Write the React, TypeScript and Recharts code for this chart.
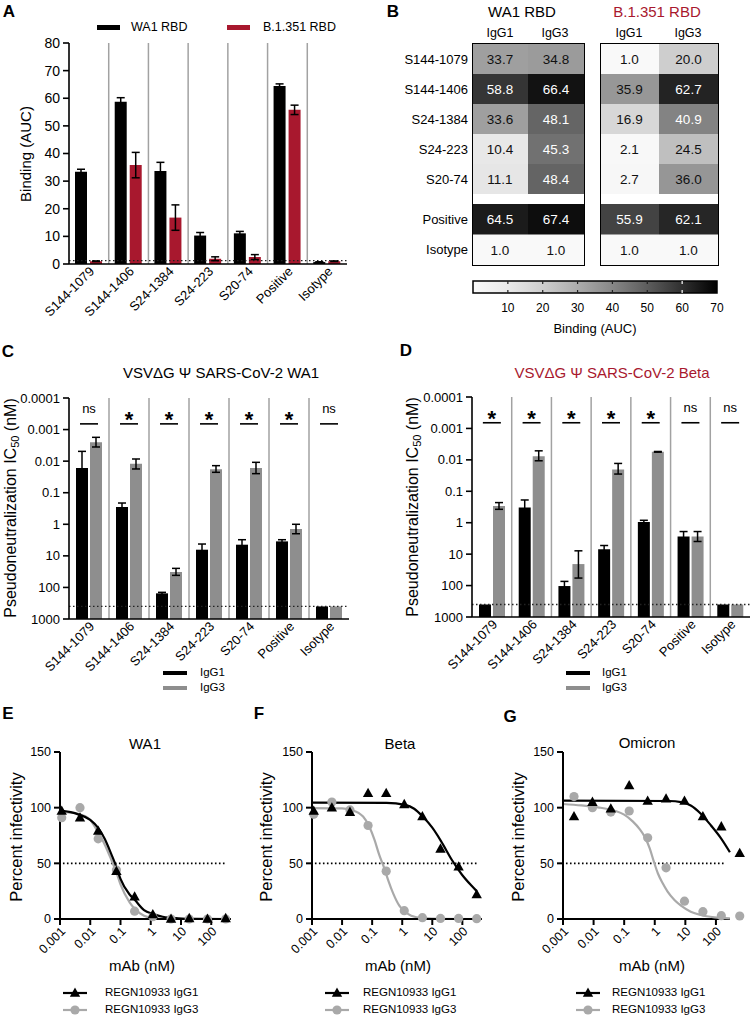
import React from 'react';
import {
  BarChart, Bar, ComposedChart, Line, Scatter, XAxis, YAxis, ErrorBar,
  ReferenceLine, CartesianGrid,
} from 'recharts';

const FONT = '"Liberation Sans", Arial, Helvetica, sans-serif';
const CRIMSON = '#a8182e';
const BAR_GREY = '#8e8e8e';
const CURVE_GREY = '#a9a9a9';
const SEP_GREY = '#a2a2a2';
const AX = { stroke: '#000', strokeWidth: 1.6 };

// ---- A: RBD binding ----
const antibodies = ['S144-1079', 'S144-1406', 'S24-1384', 'S24-223', 'S20-74', 'Positive', 'Isotype'];
const bindWa1 = [33.4, 58.7, 33.7, 10.3, 11.1, 64.4, 0.7];
const bindWa1Err = [0.9, 1.5, 3.1, 1.1, 0.7, 0.8, 0.1];
const bindBeta = [1.0, 35.8, 16.8, 1.9, 2.5, 55.8, 1.0];
const bindBetaErr = [0.1, 4.6, 4.6, 0.7, 0.9, 1.7, 0.1];
const bindLimit = 1.2;
const bindTicks = [0, 10, 20, 30, 40, 50, 60, 70, 80];

// ---- B: heatmap ----
const heatRows = ['S144-1079', 'S144-1406', 'S24-1384', 'S24-223', 'S20-74'];
const heatCtrlRows = ['Positive', 'Isotype'];
const heatWa1G1 = [33.7, 58.8, 33.6, 10.4, 11.1];
const heatWa1G3 = [34.8, 66.4, 48.1, 45.3, 48.4];
const heatWa1CtrlG1 = [64.5, 1.0];
const heatWa1CtrlG3 = [67.4, 1.0];
const heatBetaG1 = [1.0, 35.9, 16.9, 2.1, 2.7];
const heatBetaG3 = [20.0, 62.7, 40.9, 24.5, 36.0];
const heatBetaCtrlG1 = [55.9, 1.0];
const heatBetaCtrlG3 = [62.1, 1.0];
const scaleTicks = [10, 20, 30, 40, 50, 60, 70];
const scaleMax = 70;

// ---- C / D: pseudoneutralization IC50 (nM) ----
const neutTicks = [0.0001, 0.001, 0.01, 0.1, 1, 10, 100, 1000];
const neutLimit = 400;
const wa1IgG1 = [0.0165, 0.284, 154, 6.38, 4.43, 3.48, 400];
const wa1IgG1Lo = [0.0049, 0.212, 143, 4.22, 3.08, 3.08, null];
const wa1IgG1Hi = [0.0303, 0.389, 170, 9.19, 6.38, 3.93, null];
const wa1IgG3 = [0.00253, 0.012, 32.5, 0.0182, 0.0165, 1.41, 400];
const wa1IgG3Lo = [0.00176, 0.00855, 24.9, 0.0139, 0.0109, 1.0, null];
const wa1IgG3Hi = [0.00356, 0.0177, 41.5, 0.0226, 0.0249, 1.99, null];
const wa1Sig = ['ns', '*', '*', '*', '*', '*', 'ns'];
const betaIgG1 = [400, 0.331, 103.5, 6.94, 0.944, 2.75, 400];
const betaIgG1Lo = [null, 0.189, 73.6, 5.31, 0.837, 1.91, null];
const betaIgG1Hi = [null, 0.64, 152.7, 9.29, 1.065, 3.96, null];
const betaIgG3 = [0.293, 0.00763, 20.7, 0.0202, 0.00555, 2.75, 400];
const betaIgG3Lo = [0.229, 0.00516, 7.84, 0.013, 0.00541, 1.91, null];
const betaIgG3Hi = [0.375, 0.0107, 57.7, 0.0283, 0.00569, 3.96, null];
const betaSig = ['*', '*', '*', '*', '*', 'ns', 'ns'];
const sigLevel = 0.00066;

// ---- E / F / G: REGN10933 neutralization ----
const doseTicks = [0.001, 0.01, 0.1, 1, 10, 100];
const pctTicks = [0, 50, 100, 150];
const concWa1Beta = [0.00114, 0.00458, 0.0183, 0.0732, 0.293, 1.17, 4.69, 18.75, 75, 300];
const concOmicron = [0.00229, 0.00916, 0.0366, 0.146, 0.586, 2.34, 9.375, 37.5, 150, 600];

const wa1PtsG1 = [97, 91, 79, 43, 20, 4, 0, 0.6, 0, 0.6];
const wa1PtsG3 = [91, 100, 72, 44, 7, 2, 0, 0, 0, 0];
const wa1FitX = [0.001, 0.004, 0.01, 0.018, 0.03, 0.05, 0.075, 0.1, 0.2, 0.3, 0.6, 1.2, 2.5, 8, 30, 300];
const wa1FitG1 = [97.5, 94, 89, 82, 72, 58, 46, 36, 22, 17, 8, 4.5, 2, 0.6, 0.1, 0];
const wa1FitG3 = [96.5, 94.5, 89, 78, 67, 53, 41, 31, 15, 9, 3, 1, 0.3, 0, 0, 0];

const betaPtsG1 = [97, 100, 96, 113, 113, 103, 92, 63, 47, 22];
const betaPtsG3 = [94, 105, 98, 84, 43, 7.5, 1.2, 0.5, 0.5, 0.3];
const betaFitX1 = [0.001, 0.3, 1.25, 2.5, 4.8, 10, 19.5, 45, 96, 200, 300];
const betaFitG1 = [104.5, 104.3, 102.5, 99, 92, 82, 70, 53, 40, 30, 25];
const betaFitX3 = [0.001, 0.01, 0.02, 0.05, 0.08, 0.12, 0.17, 0.25, 0.35, 0.5, 0.8, 1.2, 2, 5, 20, 300];
const betaFitG3 = [99.5, 99.3, 98, 92, 83, 71, 58, 46, 34, 23, 12, 7, 3, 0.8, 0.1, 0];

const omiPtsG1 = [92, 105, 99, 120, 106, 108, 106, 92, 83, 59];
const omiPtsG3 = [110, 100, 96, 97, 73, 46, 16, 6.6, 3, 2.7];
const omiFitX1 = [0.001, 3, 7.2, 15, 32, 69, 145, 286];
const omiFitG1 = [106.3, 106, 105, 102, 94.6, 84, 72.7, 60];
const omiFitX3 = [0.001, 0.004, 0.014, 0.048, 0.1, 0.19, 0.32, 0.46, 0.68, 0.93, 1.26, 1.82, 2.63, 4.4, 7.2, 15, 32, 89, 286];
const omiFitG3 = [103.3, 102, 100.3, 97.3, 93.7, 87.7, 80.8, 74.2, 63.7, 51.7, 41.1, 32.1, 24.6, 17.1, 12, 6.6, 3.6, 1.5, 0.6];

// helpers
const heatGrey = (v: number) => {
  const g = Math.round(250 * (1 - Math.pow(Math.min(v, scaleMax) / scaleMax, 1.38)));
  return `rgb(${g},${g},${g})`;
};

// separators between category bands, from the grid's plot offset
const bandEdges = (count: number) => ({ offset }: any) => {
  const step = offset.width / count;
  return Array.from({ length: count - 1 }, (_, i) => offset.left + step * (i + 1));
};

function AngledTick({ x, y, payload, size = 13, fmt }: any) {
  return (
    <g transform={`translate(${x + 3},${y + 2}) rotate(-45)`}>
      <text x={0} y={0} dy="0.35em" textAnchor="end" fontSize={size} fontFamily={FONT} fill="#000">
        {fmt ? fmt(payload.value) : payload.value}
      </text>
    </g>
  );
}

function T({ x, y, size = 13, bold = false, color = '#000', rotate = 0, align = 'center', children }: any) {
  const tx = align === 'left' ? '0' : align === 'right' ? '-100%' : '-50%';
  return (
    <div
      style={{
        position: 'absolute', left: x, top: y, whiteSpace: 'nowrap', lineHeight: 1,
        transform: `translate(${tx},-50%)${rotate ? ` rotate(${rotate}deg)` : ''}`,
        fontSize: size, fontWeight: bold ? 700 : 400, color,
      }}
    >
      {children}
    </div>
  );
}

function Box({ x, y, w, h, children }: any) {
  return <div style={{ position: 'absolute', left: x, top: y, width: w, height: h }}>{children}</div>;
}

// ---- A ----
function BindingChart() {
  const rows = antibodies.map((name, i) => ({
    name, wa1: bindWa1[i], wa1Err: bindWa1Err[i], beta: bindBeta[i], betaErr: bindBetaErr[i],
  }));
  return (
    <BarChart width={372} height={330} data={rows} margin={{ top: 43, right: 25, bottom: 0, left: 0 }} barSize={12} barGap={3}>
      <CartesianGrid horizontal={false} stroke={SEP_GREY} strokeWidth={1.5} verticalCoordinatesGenerator={bandEdges(antibodies.length)} />
      <XAxis dataKey="name" interval={0} height={66} tickLine={false} tickSize={0} tickMargin={3} axisLine={AX}
        tick={(p: any) => <AngledTick {...p} size={13} />} />
      <XAxis xAxisId="frame" orientation="top" dataKey="name" height={0} tick={false} tickLine={false} axisLine={AX} />
      <YAxis width={69} domain={[0, 80]} ticks={bindTicks} allowDataOverflow interval={0} tickSize={6} tickMargin={3}
        axisLine={AX} tickLine={AX} tick={{ fontSize: 14, fill: '#000', fontFamily: FONT }} />
      <YAxis yAxisId="frame" orientation="right" width={0} tick={false} tickLine={false} axisLine={AX} />
      <ReferenceLine y={bindLimit} stroke="#222" strokeDasharray="1.5 2.5" strokeWidth={1.3} />
      <Bar dataKey="wa1" fill="#000" isAnimationActive={false}>
        <ErrorBar dataKey="wa1Err" width={4} stroke="#000" strokeWidth={1.5} />
      </Bar>
      <Bar dataKey="beta" fill={CRIMSON} isAnimationActive={false}>
        <ErrorBar dataKey="betaErr" width={4} stroke="#000" strokeWidth={1.5} />
      </Bar>
    </BarChart>
  );
}

// ---- B ----
function HeatCell(props: any) {
  const { x, y, width, height, payload, valueKey } = props;
  const v = payload[valueKey];
  return (
    <g>
      <rect x={x} y={y} width={width} height={height} fill={heatGrey(v)} />
      <text x={x + width / 2} y={y + height / 2} dy="0.36em" textAnchor="middle" fontSize={13.5}
        fontFamily={FONT} fill={v > 38 ? '#fff' : '#111'}>
        {v.toFixed(1)}
      </text>
    </g>
  );
}

function HeatGroup({ rows, g1, g3, width, height, showLabels }: any) {
  const data = rows.map((row: string, i: number) => ({ row, span1: 1, span3: 1, v1: g1[i], v3: g3[i] }));
  return (
    <BarChart layout="vertical" width={width} height={height} data={data} margin={{ top: 0, right: 0, bottom: 0, left: 0 }}
      barCategoryGap={0} barGap={0}>
      <XAxis type="number" domain={[0, 2]} hide />
      <YAxis type="category" dataKey="row" width={showLabels ? 100 : 0} hide={!showLabels} axisLine={false} tickLine={false}
        tickSize={0} tickMargin={4} interval={0} tick={{ fontSize: 13, fill: '#000', fontFamily: FONT }} />
      <Bar dataKey="span1" stackId="h" isAnimationActive={false} shape={(p: any) => <HeatCell {...p} valueKey="v1" />} />
      <Bar dataKey="span3" stackId="h" isAnimationActive={false} shape={(p: any) => <HeatCell {...p} valueKey="v3" />} />
    </BarChart>
  );
}

function ColorScale() {
  const data = [{ name: 'AUC', range: [0, scaleMax] }];
  return (
    <BarChart layout="vertical" width={270} height={47} data={data} margin={{ top: 5, right: 18, bottom: 0, left: 8 }}
      barCategoryGap={0}>
      <XAxis type="number" domain={[0, scaleMax]} ticks={scaleTicks} height={30} axisLine={false} tickLine={false}
        tickSize={0} tickMargin={10} interval={0} tick={{ fontSize: 12, fill: '#000', fontFamily: FONT }} />
      <YAxis type="category" dataKey="name" hide />
      <Bar dataKey="range" fill="url(#aucGrad)" stroke="#000" strokeWidth={1.5} isAnimationActive={false} />
      {scaleTicks.slice(0, -1).map((t) => (
        <ReferenceLine key={t} x={t} stroke={t >= 60 ? '#fff' : '#222'} strokeWidth={1.2} strokeDasharray="3 6" />
      ))}
    </BarChart>
  );
}

// ---- C / D ----
function SigMark({ cx, cy, payload }: any) {
  const star = payload.sig === '*';
  return (
    <g>
      <line x1={cx - 9} x2={cx + 9} y1={cy} y2={cy} stroke="#000" strokeWidth={1.6} />
      <text x={cx} y={star ? cy + 3 : cy - 11} textAnchor="middle" fontSize={star ? 22 : 13}
        fontWeight={star ? 700 : 400} fontFamily={FONT} fill="#000">
        {payload.sig}
      </text>
    </g>
  );
}

const errOf = (v: number, lo: number | null, hi: number | null) => (lo == null || hi == null ? null : [v - lo, hi - v]);

function NeutChart({ width, height, margin, xAxisHeight, g1, g1Lo, g1Hi, g3, g3Lo, g3Hi, sig }: any) {
  const axisMax = neutTicks[neutTicks.length - 1];
  const rows = antibodies.map((name, i) => ({
    name,
    igg1: [axisMax, g1[i]],
    igg1Err: errOf(g1[i], g1Lo[i], g1Hi[i]),
    igg3: [axisMax, g3[i]],
    igg3Err: errOf(g3[i], g3Lo[i], g3Hi[i]),
    sig: sig[i],
    sigLevel,
  }));
  return (
    <ComposedChart width={width} height={height} data={rows} margin={margin} barSize={12} barGap={2}>
      <CartesianGrid horizontal={false} stroke={SEP_GREY} strokeWidth={1.5} verticalCoordinatesGenerator={bandEdges(antibodies.length)} />
      <XAxis dataKey="name" interval={0} height={xAxisHeight} tickLine={false} tickSize={0} tickMargin={3} axisLine={AX}
        tick={(p: any) => <AngledTick {...p} size={13} />} />
      <XAxis xAxisId="frame" orientation="top" dataKey="name" height={0} tick={false} tickLine={false} axisLine={AX} />
      <YAxis width={69} scale="log" domain={[neutTicks[0], axisMax]} reversed allowDataOverflow ticks={neutTicks} interval={0}
        tickSize={6} tickMargin={3} axisLine={AX} tickLine={AX} tickFormatter={(v: number) => String(v)}
        tick={{ fontSize: 13, fill: '#000', fontFamily: FONT }} />
      <YAxis yAxisId="frame" orientation="right" width={0} tick={false} tickLine={false} axisLine={AX} />
      <ReferenceLine y={neutLimit} stroke="#222" strokeDasharray="1.5 2.5" strokeWidth={1.3} />
      <Bar dataKey="igg1" fill="#000" isAnimationActive={false}>
        <ErrorBar dataKey="igg1Err" width={4} stroke="#000" strokeWidth={1.5} />
      </Bar>
      <Bar dataKey="igg3" fill={BAR_GREY} isAnimationActive={false}>
        <ErrorBar dataKey="igg3Err" width={4} stroke="#000" strokeWidth={1.5} />
      </Bar>
      <Scatter dataKey="sigLevel" isAnimationActive={false} shape={(p: any) => <SigMark {...p} />} />
    </ComposedChart>
  );
}

// ---- E / F / G ----
const TriMark = ({ cx, cy }: any) => (
  <path d={`M${cx},${cy - 5.5} L${cx + 5.2},${cy + 3.8} L${cx - 5.2},${cy + 3.8} Z`} fill="#000" />
);
const DotMark = ({ cx, cy }: any) => <circle cx={cx} cy={cy} r={4.6} fill={CURVE_GREY} />;

const pts = (xs: number[], ys: number[]) => xs.map((x, i) => ({ x, y: ys[i] }));

function DoseChart({ width, yAxisWidth, marginRight, xMax, axisEnd, dotEnd, conc, ptsG1, ptsG3, fitX1, fitG1, fitX3, fitG3 }: any) {
  const axisLine = axisEnd ? false : { stroke: '#000', strokeWidth: 2 };
  return (
    <ComposedChart width={width} height={245} margin={{ top: 12, right: marginRight, bottom: 0, left: 0 }}>
      <XAxis type="number" dataKey="x" scale="log" domain={[doseTicks[0], xMax]} ticks={doseTicks} interval={0}
        height={66} tickSize={6} tickMargin={2} axisLine={axisLine} tickLine={{ stroke: '#000', strokeWidth: 2 }}
        tick={(p: any) => <AngledTick {...p} size={12.5} fmt={(v: number) => String(v)} />} />
      <YAxis type="number" dataKey="y" width={yAxisWidth} domain={[0, 150]} ticks={pctTicks} interval={0}
        tickSize={6} tickMargin={3} axisLine={{ stroke: '#000', strokeWidth: 2 }} tickLine={{ stroke: '#000', strokeWidth: 2 }}
        tick={{ fontSize: 12.5, fill: '#000', fontFamily: FONT }} />
      {axisEnd ? (
        <ReferenceLine segment={[{ x: doseTicks[0], y: 0 }, { x: axisEnd, y: 0 }]} stroke="#000" strokeWidth={2} />
      ) : null}
      <ReferenceLine segment={[{ x: 0.00125, y: 50 }, { x: dotEnd, y: 50 }]} stroke="#000" strokeWidth={1.6} strokeDasharray="1.6 2.4" />
      <Line data={pts(fitX3, fitG3)} dataKey="y" type="monotone" dot={false} stroke={CURVE_GREY} strokeWidth={2.2} isAnimationActive={false} />
      <Scatter data={pts(conc, ptsG3)} dataKey="y" isAnimationActive={false} shape={(p: any) => <DotMark {...p} />} />
      <Line data={pts(fitX1, fitG1)} dataKey="y" type="monotone" dot={false} stroke="#000" strokeWidth={2.2} isAnimationActive={false} />
      <Scatter data={pts(conc, ptsG1)} dataKey="y" isAnimationActive={false} shape={(p: any) => <TriMark {...p} />} />
    </ComposedChart>
  );
}

function DoseLegend({ cx, textX }: any) {
  return (
    <>
      <svg style={{ position: 'absolute', left: cx - 13, top: 984, overflow: 'visible' }} width={26} height={34}>
        <line x1={1} x2={25} y1={9} y2={9} stroke="#000" strokeWidth={2.2} />
        <TriMark cx={13} cy={9} />
        <line x1={1} x2={25} y1={26} y2={26} stroke={CURVE_GREY} strokeWidth={2.2} />
        <DotMark cx={13} cy={26} />
      </svg>
      <T x={textX} y={993} size={11.5} align="left">REGN10933 IgG1</T>
      <T x={textX} y={1010} size={11.5} align="left">REGN10933 IgG3</T>
    </>
  );
}

function BarLegend({ x, textX }: any) {
  return (
    <>
      <div style={{ position: 'absolute', left: x, top: 671, width: 24, height: 4, background: '#000' }} />
      <div style={{ position: 'absolute', left: x, top: 686, width: 24, height: 4, background: BAR_GREY }} />
      <T x={textX} y={673} size={11.5} align="left">IgG1</T>
      <T x={textX} y={688} size={11.5} align="left">IgG3</T>
    </>
  );
}

const IC50 = (
  <span>Pseudoneutralization IC<sub style={{ fontSize: 11, verticalAlign: '-3px' }}>50</sub> (nM)</span>
);

export default function App() {
  return (
    <div style={{ position: 'absolute', left: 0, top: 0, width: 752, height: 1020, background: '#fff', fontFamily: FONT, color: '#000', overflow: 'hidden' }}>
      <svg width={0} height={0} style={{ position: 'absolute' }}>
        <defs>
          <linearGradient id="aucGrad" x1="0" y1="0" x2="1" y2="0">
            {[0, ...scaleTicks].map((v) => (
              <stop key={v} offset={v / scaleMax} stopColor={heatGrey(v)} />
            ))}
          </linearGradient>
        </defs>
      </svg>

      {/* panel letters */}
      <T x={9} y={11} size={17} bold>A</T>
      <T x={393} y={11} size={17} bold>B</T>
      <T x={8} y={351} size={17} bold>C</T>
      <T x={406} y={350} size={17} bold>D</T>
      <T x={8} y={713} size={17} bold>E</T>
      <T x={259} y={713} size={17} bold>F</T>
      <T x={510} y={716} size={17} bold>G</T>

      {/* A */}
      <div style={{ position: 'absolute', left: 97, top: 24.5, width: 23, height: 5, background: '#000' }} />
      <T x={131} y={27} size={12.5} align="left">WA1 RBD</T>
      <div style={{ position: 'absolute', left: 227, top: 24.5, width: 23, height: 5, background: CRIMSON }} />
      <T x={263} y={27} size={12.5} align="left">B.1.351 RBD</T>
      <Box x={0} y={0} w={372} h={330}><BindingChart /></Box>
      <T x={25} y={154} size={15} rotate={-90}>Binding (AUC)</T>

      {/* B */}
      <T x={522} y={11} size={15}>WA1 RBD</T>
      <T x={657} y={11} size={15} color={CRIMSON}>B.1.351 RBD</T>
      <T x={500} y={33} size={12.5}>IgG1</T>
      <T x={555} y={33} size={12.5}>IgG3</T>
      <T x={629} y={33} size={12.5}>IgG1</T>
      <T x={688} y={33} size={12.5}>IgG3</T>
      <Box x={372} y={43.5} w={212} h={150}>
        <HeatGroup rows={heatRows} g1={heatWa1G1} g3={heatWa1G3} width={212} height={150} showLabels />
      </Box>
      <Box x={372} y={204} w={212} h={61}>
        <HeatGroup rows={heatCtrlRows} g1={heatWa1CtrlG1} g3={heatWa1CtrlG3} width={212} height={61} showLabels />
      </Box>
      <Box x={600} y={43.5} w={118} h={150}>
        <HeatGroup rows={heatRows} g1={heatBetaG1} g3={heatBetaG3} width={118} height={150} showLabels={false} />
      </Box>
      <Box x={600} y={204} w={118} h={61}>
        <HeatGroup rows={heatCtrlRows} g1={heatBetaCtrlG1} g3={heatBetaCtrlG3} width={118} height={61} showLabels={false} />
      </Box>
      <div style={{ position: 'absolute', left: 471.5, top: 42.5, width: 113, height: 223.5, border: '1.5px solid #000', boxSizing: 'border-box' }} />
      <div style={{ position: 'absolute', left: 599.5, top: 42.5, width: 119, height: 223.5, border: '1.5px solid #000', boxSizing: 'border-box' }} />
      <Box x={465} y={276} w={270} h={47}><ColorScale /></Box>
      <T x={595} y={328} size={13}>Binding (AUC)</T>

      {/* C */}
      <T x={221} y={372} size={15}>VSVΔG Ψ SARS-CoV-2 WA1</T>
      <Box x={0} y={390} w={375} h={300}>
        <NeutChart width={375} height={300} margin={{ top: 8, right: 26, bottom: 0, left: 0 }} xAxisHeight={71}
          g1={wa1IgG1} g1Lo={wa1IgG1Lo} g1Hi={wa1IgG1Hi} g3={wa1IgG3} g3Lo={wa1IgG3Lo} g3Hi={wa1IgG3Hi} sig={wa1Sig} />
      </Box>
      <T x={12} y={508} size={16} rotate={-90}>{IC50}</T>
      <BarLegend x={163} textX={200} />

      {/* D */}
      <T x={612} y={372} size={15} color={CRIMSON}>VSVΔG Ψ SARS-CoV-2 Beta</T>
      <Box x={403} y={390} w={349} h={300}>
        <NeutChart width={349} height={300} margin={{ top: 7, right: 2, bottom: 0, left: 0 }} xAxisHeight={73}
          g1={betaIgG1} g1Lo={betaIgG1Lo} g1Hi={betaIgG1Hi} g3={betaIgG3} g3Lo={betaIgG3Lo} g3Hi={betaIgG3Hi} sig={betaSig} />
      </Box>
      <T x={414} y={507} size={16} rotate={-90}>{IC50}</T>
      <BarLegend x={566} textX={602} />

      {/* E */}
      <T x={145} y={743} size={15}>WA1</T>
      <Box x={0} y={740} w={260} h={245}>
        <DoseChart width={260} yAxisWidth={60} marginRight={29} xMax={450} dotEnd={300} conc={concWa1Beta}
          ptsG1={wa1PtsG1} ptsG3={wa1PtsG3} fitX1={wa1FitX} fitG1={wa1FitG1} fitX3={wa1FitX} fitG3={wa1FitG3} />
      </Box>
      <T x={16} y={837} size={16.5} rotate={-90}>Percent infectivity</T>
      <T x={142} y={965} size={15}>mAb (nM)</T>
      <DoseLegend cx={75} textX={105} />

      {/* F */}
      <T x={400} y={743} size={15}>Beta</T>
      <Box x={252} y={740} w={260} h={245}>
        <DoseChart width={260} yAxisWidth={60} marginRight={30} xMax={450} dotEnd={300} conc={concWa1Beta}
          ptsG1={betaPtsG1} ptsG3={betaPtsG3} fitX1={betaFitX1} fitG1={betaFitG1} fitX3={betaFitX3} fitG3={betaFitG3} />
      </Box>
      <T x={266} y={837} size={16.5} rotate={-90}>Percent infectivity</T>
      <T x={398} y={965} size={15}>mAb (nM)</T>
      <DoseLegend cx={337} textX={363} />

      {/* G */}
      <T x={647} y={742} size={15}>Omicron</T>
      <Box x={500} y={740} w={252} h={245}>
        <DoseChart width={252} yAxisWidth={63} marginRight={11} xMax={660} axisEnd={286} dotEnd={190} conc={concOmicron}
          ptsG1={omiPtsG1} ptsG3={omiPtsG3} fitX1={omiFitX1} fitG1={omiFitG1} fitX3={omiFitX3} fitG3={omiFitG3} />
      </Box>
      <T x={518} y={837} size={16.5} rotate={-90}>Percent infectivity</T>
      <T x={652} y={965} size={15}>mAb (nM)</T>
      <DoseLegend cx={588} textX={612} />
    </div>
  );
}
